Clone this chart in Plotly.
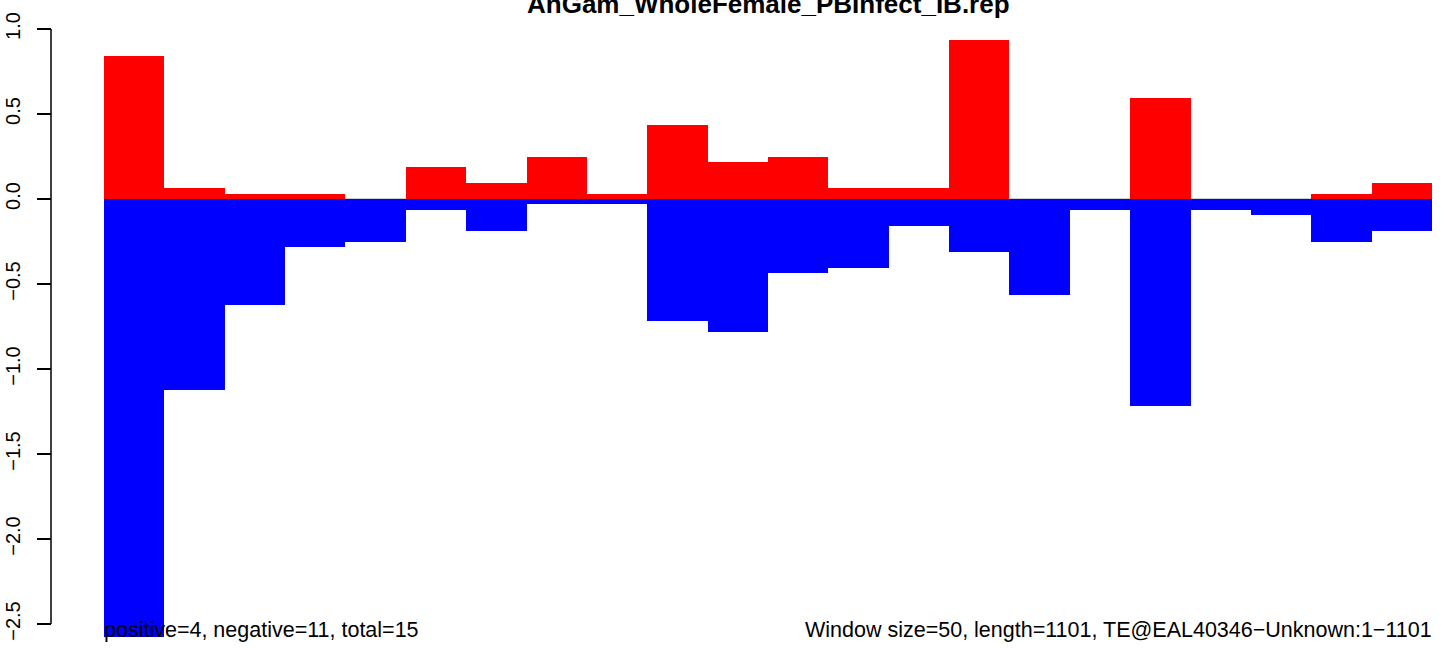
import plotly.graph_objects as go

window_size = 50
seq_length = 1101
n_windows = 22
window_starts = [i * window_size for i in range(n_windows)]

positive_values = [0.84375, 0.0625, 0.03125, 0.03125, 0.0, 0.1875, 0.09375, 0.25,
                   0.03125, 0.4375, 0.21875, 0.25, 0.0625, 0.0625, 0.9375, 0.0,
                   0.0, 0.59375, 0.0, 0.0, 0.03125, 0.09375]
negative_values = [-2.575, -1.125, -0.625, -0.28125, -0.25, -0.0625, -0.1875, -0.03125,
                   -0.03125, -0.71875, -0.78125, -0.4375, -0.40625, -0.15625, -0.3125, -0.5625,
                   -0.0625, -1.21875, -0.0625, -0.09375, -0.25, -0.1875]

y_ticks = [1.0, 0.5, 0.0, -0.5, -1.0, -1.5, -2.0, -2.5]
title_text = "AnGam_WholeFemale_PBInfect_IB.rep"
left_note = "positive=4, negative=11, total=15"
right_note = "Window size=50, length=1101, TE@EAL40346\u2212Unknown:1\u22121101"

W, H = 1444, 648
L, R, T, B = 51, 12, 19, 4
plot_w = W - L - R
x_dom_start = (104 - L) / plot_w

centers = [s + window_size / 2 for s in window_starts]
x_max = n_windows * window_size

FONT = "Liberation Sans, Arial, Helvetica, sans-serif"

fig = go.Figure()
fig.add_trace(go.Bar(x=centers, y=positive_values, width=window_size,
                     marker=dict(color="#FF0000", line=dict(width=0)),
                     showlegend=False, hoverinfo="y"))
fig.add_trace(go.Bar(x=centers, y=negative_values, width=window_size,
                     marker=dict(color="#0000FF", line=dict(width=0)),
                     showlegend=False, hoverinfo="y"))

# gray zero line beneath bars
fig.add_shape(type="line", xref="x", yref="y", x0=0, x1=x_max, y0=0, y1=0,
              line=dict(color="#BEBEBE", width=1.5), layer="below")
# R-style axis line spanning only tick range
fig.add_shape(type="line", xref="paper", yref="y", x0=0, x1=0,
              y0=min(y_ticks), y1=max(y_ticks),
              line=dict(color="black", width=1.5), layer="above")

fig.add_annotation(x=x_max / 2, xref="x", y=1 + (T - 4) / (H - T - B), yref="paper",
                   text="<b>" + title_text + "</b>", showarrow=False,
                   xanchor="center", yanchor="middle",
                   font=dict(family=FONT, size=26, color="black"))
fig.add_annotation(x=0, xref="x", y=-2.535, yref="y", text=left_note, showarrow=False,
                   xanchor="left", yanchor="middle", xshift=-2,
                   font=dict(family=FONT, size=21.5, color="black"))
fig.add_annotation(x=x_max, xref="x", y=-2.535, yref="y", text=right_note, showarrow=False,
                   xanchor="right", yanchor="middle", xshift=2,
                   font=dict(family=FONT, size=21.5, color="black"))

top_val = 1.0 + (29 - T) / 170.0
span = (H - T - B) / 170.0

fig.update_layout(
    width=W, height=H,
    margin=dict(l=L, r=R, t=T, b=B, autoexpand=False),
    paper_bgcolor="white", plot_bgcolor="white",
    barmode="overlay", bargap=0,
    showlegend=False,
    xaxis=dict(visible=False, range=[0, x_max], domain=[x_dom_start, 1], fixedrange=True),
    yaxis=dict(range=[top_val - span, top_val], anchor="free", position=0,
               tickvals=y_ticks, ticktext=[("\u2212" if v < 0 else "") + f"{abs(v):.1f}" for v in y_ticks],
               ticks="outside", ticklen=14, tickwidth=1.5, tickcolor="black",
               tickangle=-90, ticklabelstandoff=9,
               showline=False, showgrid=False, zeroline=False, automargin=False,
               tickfont=dict(family=FONT, size=20, color="black")),
)

fig.write_html("out.html", config={"displayModeBar": False},
               post_script="document.body.style.margin='0px';")
